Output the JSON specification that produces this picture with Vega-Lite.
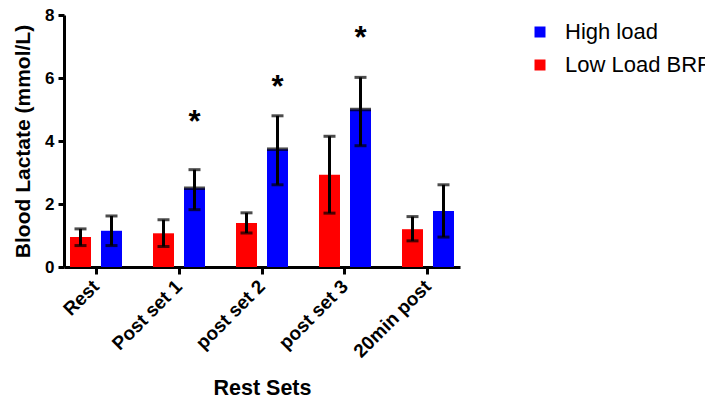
{
  "$schema": "https://vega.github.io/schema/vega-lite/v6.json",
  "width": 396,
  "height": 252,
  "autosize": "none",
  "padding": {"left": 64, "top": 15, "right": 245, "bottom": 135},
  "background": "white",
  "config": {
    "font": "Liberation Sans",
    "view": {"stroke": null},
    "axis": {"grid": false, "domainColor": "black", "tickColor": "black", "labelColor": "black", "titleColor": "black", "labelFontWeight": "bold", "titleFontWeight": "bold", "domainWidth": 3, "tickWidth": 3}
  },
  "datasets": {
    "bars": [
      {"set": "Rest", "group": "Low Load BRF", "mean": 0.95, "lo": 0.68, "hi": 1.21, "sig": false},
      {"set": "Rest", "group": "High load", "mean": 1.15, "lo": 0.68, "hi": 1.62, "sig": false},
      {"set": "Post set 1", "group": "Low Load BRF", "mean": 1.07, "lo": 0.65, "hi": 1.5, "sig": false},
      {"set": "Post set 1", "group": "High load", "mean": 2.5, "lo": 1.82, "hi": 3.09, "sig": true},
      {"set": "post set 2", "group": "Low Load BRF", "mean": 1.4, "lo": 1.08, "hi": 1.72, "sig": false},
      {"set": "post set 2", "group": "High load", "mean": 3.74, "lo": 2.61, "hi": 4.8, "sig": true},
      {"set": "post set 3", "group": "Low Load BRF", "mean": 2.93, "lo": 1.71, "hi": 4.15, "sig": false},
      {"set": "post set 3", "group": "High load", "mean": 5.0, "lo": 3.85, "hi": 6.02, "sig": true},
      {"set": "20min post", "group": "Low Load BRF", "mean": 1.2, "lo": 0.83, "hi": 1.6, "sig": false},
      {"set": "20min post", "group": "High load", "mean": 1.78, "lo": 0.95, "hi": 2.61, "sig": false}
    ],
    "stars": [
      {"set": "Post set 1", "group": "High load", "label": "*", "pos": 4.71},
      {"set": "post set 2", "group": "High load", "label": "*", "pos": 5.81},
      {"set": "post set 3", "group": "High load", "label": "*", "pos": 7.37}
    ]
  },
  "encoding": {
    "x": {
      "field": "set", "type": "nominal",
      "sort": ["Rest", "Post set 1", "post set 2", "post set 3", "20min post"],
      "scale": {"paddingInner": 0.3735, "paddingOuter": 0.0723},
      "axis": {"title": "Rest Sets", "titleFontSize": 21.5, "labelFontSize": 19, "labelAngle": -45, "labelBaseline": "middle", "labelAlign": "right", "tickSize": 7, "labelPadding": 9, "titlePadding": 17}
    },
    "xOffset": {"field": "group", "type": "nominal", "sort": ["Low Load BRF", "High load"], "scale": {"paddingInner": 0.3226, "paddingOuter": 0}}
  },
  "layer": [
    {
      "data": {"name": "bars"},
      "mark": {"type": "bar"},
      "encoding": {
        "y": {"field": "mean", "type": "quantitative", "scale": {"domain": [0, 8]},
          "axis": {"title": "Blood Lactate (mmol/L)", "titleFontSize": 21, "labelFontSize": 17, "values": [0, 2, 4, 6, 8], "tickSize": 6, "labelPadding": 4, "titlePadding": 11}},
        "color": {"field": "group", "type": "nominal",
          "scale": {"domain": ["High load", "Low Load BRF"], "range": ["#0000FF", "#FF0000"]},
          "legend": {"title": null, "orient": "none", "legendX": 465, "legendY": 6, "symbolType": "square", "symbolSize": 121, "symbolStrokeWidth": 0, "labelFontSize": 22, "labelFont": "Liberation Sans", "labelColor": "black", "labelOffset": 14, "rowPadding": 11, "padding": 0, "labelLimit": 300}}
      }
    },
    {
      "data": {"name": "bars"},
      "mark": {"type": "rule", "color": "black", "strokeWidth": 3},
      "encoding": {
        "y": {"field": "lo", "type": "quantitative"},
        "y2": {"field": "hi"}
      }
    },
    {
      "data": {"name": "bars"},
      "mark": {"type": "tick", "color": "black", "thickness": 3, "size": 12, "orient": "horizontal"},
      "encoding": {"y": {"field": "lo", "type": "quantitative"}}
    },
    {
      "data": {"name": "bars"},
      "mark": {"type": "tick", "color": "black", "thickness": 3, "size": 12, "orient": "horizontal"},
      "encoding": {"y": {"field": "hi", "type": "quantitative"}}
    },
    {
      "data": {"name": "bars"},
      "transform": [{"filter": "datum.sig"}],
      "mark": {"type": "tick", "color": "black", "thickness": 3.5, "size": 21, "orient": "horizontal"},
      "encoding": {"y": {"field": "mean", "type": "quantitative"}}
    },
    {
      "data": {"name": "stars"},
      "mark": {"type": "text", "fontSize": 31, "fontWeight": "bold", "color": "black", "baseline": "alphabetic", "dy": 13},
      "encoding": {
        "y": {"field": "pos", "type": "quantitative"},
        "text": {"field": "label"}
      }
    }
  ]
}
